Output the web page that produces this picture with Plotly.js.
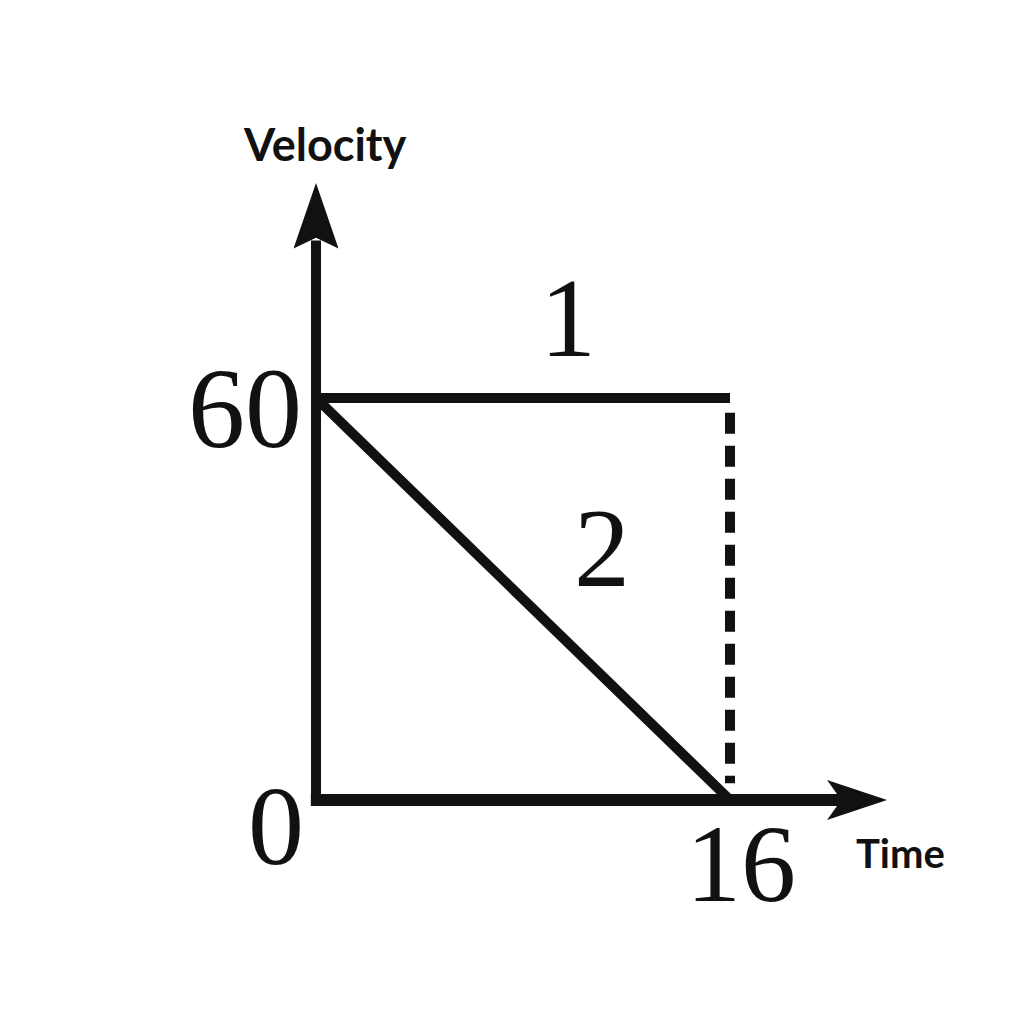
<!DOCTYPE html>
<html>
<head>
<meta charset="utf-8">
<script src="https://cdn.plot.ly/plotly-3.0.1.min.js"></script>
<style>html,body{margin:0;padding:0;background:#fff;}#chart{width:1024px;height:1024px;}</style>
</head>
<body>
<div id="chart"></div>
<script>
// ---- data ----
const timeValues = [0, 16];
const line1Velocity = [60, 60];
const line2Velocity = [60, 0];
const tickLabelsX = ["0", "16"];
const tickLabelsY = ["0", "60"];
const lineLabels = ["1", "2"];
const axisTitles = ["Velocity", "Time"];
const axisEnds = {x: 22.07, y: 92.1};

const ink = "#111111";
const serif = "Liberation Serif, Times New Roman, serif";
const sans = "Lato, Open Sans, sans-serif";

const traces = [];
// axes lines
traces.push({x:[0,0], y:[-0.9, 83.5], mode:"lines", line:{color:ink, width:10}, hoverinfo:"skip"});
traces.push({x:[-0.2, 20.6], y:[0,0], mode:"lines", line:{color:ink, width:12}, hoverinfo:"skip"});
// arrowheads
traces.push({x:[-0.87, 0, 0.87, 0, -0.87], y:[82.3, axisEnds.y, 82.3, 83.9, 82.3], mode:"lines", fill:"toself", fillcolor:ink, line:{width:0, color:ink}, hoverinfo:"skip"});
traces.push({x:[19.75, axisEnds.x, 19.75, 20.3, 19.75], y:[3.0, 0, -3.0, 0, 3.0], mode:"lines", fill:"toself", fillcolor:ink, line:{width:0, color:ink}, hoverinfo:"skip"});
// series 1
traces.push({x:timeValues, y:line1Velocity, mode:"lines", line:{color:ink, width:10}, hoverinfo:"skip"});
// series 2
traces.push({x:timeValues, y:line2Velocity, mode:"lines", line:{color:ink, width:10}, hoverinfo:"skip"});
// dashed drop line
traces.push({x:[timeValues[1], timeValues[1]], y:[line1Velocity[1]-2.2, 2.5], mode:"lines", line:{color:ink, width:10, dash:"21px,12px"}, hoverinfo:"skip"});

const ann = (text, x, y, size, family, extra) => Object.assign({text:text, x:x, y:y, xref:"x", yref:"y", showarrow:false, xanchor:"center", yanchor:"middle", font:{size:size, family:family, color:ink}}, extra||{});

const annotations = [
  ann(tickLabelsY[1], -2.74, 58.4, 114, serif),
  ann(tickLabelsY[0], -1.55, -3.9, 112, serif),
  ann(tickLabelsX[1], timeValues[1]+0.42, -9.6, 110, serif),
  ann(lineLabels[0], 9.73, 72.0, 112, serif),
  ann(lineLabels[1], 11.05, 37.6, 112, serif),
  ann("<b>"+axisTitles[0]+"</b>", 0.35, 97.9, 45, sans),
  ann("<b>"+axisTitles[1]+"</b>", 22.6, -7.9, 40, sans)
];

const layout = {
  width:1024, height:1024,
  margin:{l:0, r:0, t:0, b:0},
  paper_bgcolor:"#fff", plot_bgcolor:"#fff",
  showlegend:false,
  xaxis:{range:[-12.213, 27.362], visible:false, fixedrange:true},
  yaxis:{range:[-33.43, 119.40], visible:false, fixedrange:true},
  annotations:annotations
};
Plotly.newPlot("chart", traces, layout, {staticPlot:true});
</script>
</body>
</html>
